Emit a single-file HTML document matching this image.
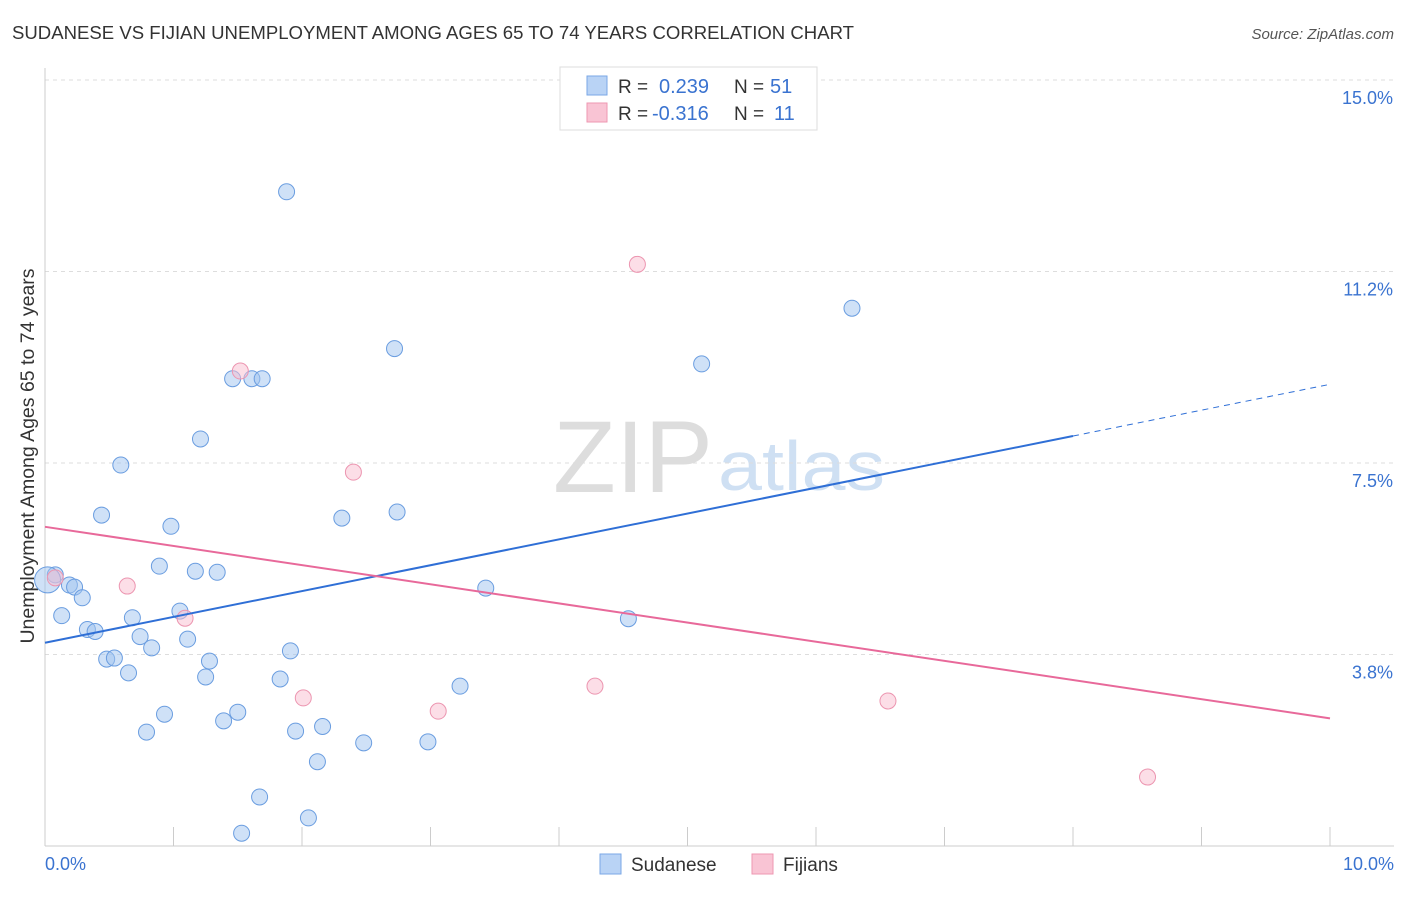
<!DOCTYPE html>
<html><head><meta charset="utf-8"><style>
body{margin:0;background:#fff;font-family:"Liberation Sans",sans-serif}
svg text{font-family:"Liberation Sans",sans-serif}
</style></head><body>
<svg id="c" width="1406" height="892" xmlns="http://www.w3.org/2000/svg">
<text x="12" y="39" font-size="18" fill="#333" textLength="842" lengthAdjust="spacingAndGlyphs">SUDANESE VS FIJIAN UNEMPLOYMENT AMONG AGES 65 TO 74 YEARS CORRELATION CHART</text>
<text x="1394" y="39" font-size="15" fill="#555" text-anchor="end" font-style="italic">Source: ZipAtlas.com</text>
<text x="34" y="456" font-size="19.5" fill="#333" text-anchor="middle" transform="rotate(-90 34 456)">Unemployment Among Ages 65 to 74 years</text>
<g><text x="553" y="492" font-size="102" fill="#ddd" font-family="Liberation Serif" textLength="160" lengthAdjust="spacingAndGlyphs">ZIP</text><text x="718" y="490" font-size="70" fill="#cfe0f3" textLength="167" lengthAdjust="spacingAndGlyphs">atlas</text></g>
<g id="grid"></g><g id="marks"></g>
<g>
<rect x="560" y="67" width="257" height="63" fill="#fff" stroke="#ddd"/>
<rect x="587" y="76" width="20" height="19" fill="#b9d3f5" stroke="#7aa7e6"/>
<rect x="587" y="103" width="20" height="19" fill="#f9c4d4" stroke="#ee97b2"/>
<text x="618" y="93" font-size="19" fill="#333">R = </text><text x="659" y="93" font-size="20" fill="#3a73d0">0.239</text>
<text x="734" y="93" font-size="19" fill="#333">N = </text><text x="770" y="93" font-size="20" fill="#3a73d0">51</text>
<text x="618" y="120" font-size="19" fill="#333">R = </text><text x="652" y="120" font-size="20" fill="#3a73d0">-0.316</text>
<text x="734" y="120" font-size="19" fill="#333">N = </text><text x="774" y="120" font-size="20" fill="#3a73d0">11</text>
</g>
<g>
<rect x="600" y="854" width="21" height="20" fill="#b9d3f5" stroke="#7aa7e6"/>
<text x="631" y="871" font-size="19" fill="#333">Sudanese</text>
<rect x="752" y="854" width="21" height="20" fill="#f9c4d4" stroke="#ee97b2"/>
<text x="783" y="871" font-size="19" fill="#333">Fijians</text>
</g>
</svg>
<script>
const yTicks=[3.75,7.5,11.25,15];
const yTickLabels=["3.8%","7.5%","11.2%","15.0%"];
const xTickCount=10;
const blueX=[0.08,0.19,0.23,0.29,0.13,0.33,0.39,0.44,0.59,0.48,0.54,0.65,0.68,0.74,0.83,0.79,0.89,0.93,0.98,1.05,1.11,1.17,1.21,1.25,1.28,1.34,1.39,1.46,1.50,1.53,1.61,1.69,1.67,1.83,1.88,1.91,1.95,2.05,2.12,2.16,2.31,2.48,2.72,2.74,2.98,3.23,3.43,4.54,5.11,6.28,0.02];
const blueY=[5.31,5.11,5.07,4.86,4.51,4.24,4.20,6.48,7.46,3.66,3.68,3.39,4.47,4.10,3.88,2.23,5.48,2.58,6.26,4.60,4.05,5.38,7.97,3.31,3.62,5.36,2.45,9.15,2.62,0.25,9.15,9.15,0.96,3.27,12.81,3.82,2.25,0.55,1.65,2.34,6.42,2.02,9.74,6.54,2.04,3.13,5.05,4.45,9.44,10.53,5.21];
const pinkX=[0.08,0.64,1.09,1.52,2.01,2.40,3.06,4.28,4.61,6.56,8.58];
const pinkY=[5.25,5.09,4.46,9.30,2.90,7.32,2.64,3.13,11.39,2.84,1.35];
const blueLine=[3.98,9.04], pinkLine=[6.25,2.50];
const X=v=>45+128.5*v, Y=v=>846-51.07*v;
const NS="http://www.w3.org/2000/svg";
function mk(t,a,p){const e=document.createElementNS(NS,t);for(const k in a)e.setAttribute(k,a[k]);p.appendChild(e);return e;}
const g=document.getElementById('grid'), m=document.getElementById('marks');
yTicks.forEach((v,i)=>{
 const l=mk('line',{x1:45,x2:1394,y1:Y(v),y2:Y(v),stroke:'#ddd','stroke-dasharray':'4,4'},g);
 
 
 const t=mk('text',{x:1393,y:Y(v)+24,'font-size':18,fill:'#3a73d0','text-anchor':'end'},g);t.textContent=yTickLabels[i];
 
 
});
const ax=mk('line',{x1:45,x2:1394,y1:846,y2:846,stroke:'#ccc'},g);


const ay=mk('line',{x1:45,x2:45,y1:68,y2:846,stroke:'#ccc'},g);


for(let i=1;i<=xTickCount;i++){const t=mk('line',{x1:X(i),x2:X(i),y1:827,y2:846,stroke:'#ccc'},g);
 
 }
const xl0=mk('text',{x:45,y:870,'font-size':18,fill:'#3a73d0'},g);xl0.textContent='0.0%';


const xl1=mk('text',{x:1394,y:870,'font-size':18,fill:'#3a73d0','text-anchor':'end'},g);xl1.textContent='10.0%';


blueX.forEach((x,i)=>{const c=mk('circle',{cx:X(x),cy:Y(blueY[i]),r:i==blueX.length-1?13:8,fill:'rgba(160,196,240,0.5)',stroke:'#6a9de0','stroke-width':1},m);
 
 });
pinkX.forEach((x,i)=>{const c=mk('circle',{cx:X(x),cy:Y(pinkY[i]),r:8,fill:'rgba(249,190,208,0.5)',stroke:'#ec95b0','stroke-width':1},m);
 
 });
const bAt=x=>blueLine[0]+(blueLine[1]-blueLine[0])*x/10;
const bl=mk('line',{x1:X(0),y1:Y(bAt(0)),x2:X(8),y2:Y(bAt(8)),stroke:'#2f6fd6','stroke-width':2},m);


const bd=mk('line',{x1:X(8),y1:Y(bAt(8)),x2:X(10),y2:Y(bAt(10)),stroke:'#2f6fd6','stroke-width':1,'stroke-dasharray':'6,5'},m);


const pl=mk('line',{x1:X(0),y1:Y(pinkLine[0]),x2:X(10),y2:Y(pinkLine[1]),stroke:'#e8699a','stroke-width':2},m);


</script>
</body></html>
